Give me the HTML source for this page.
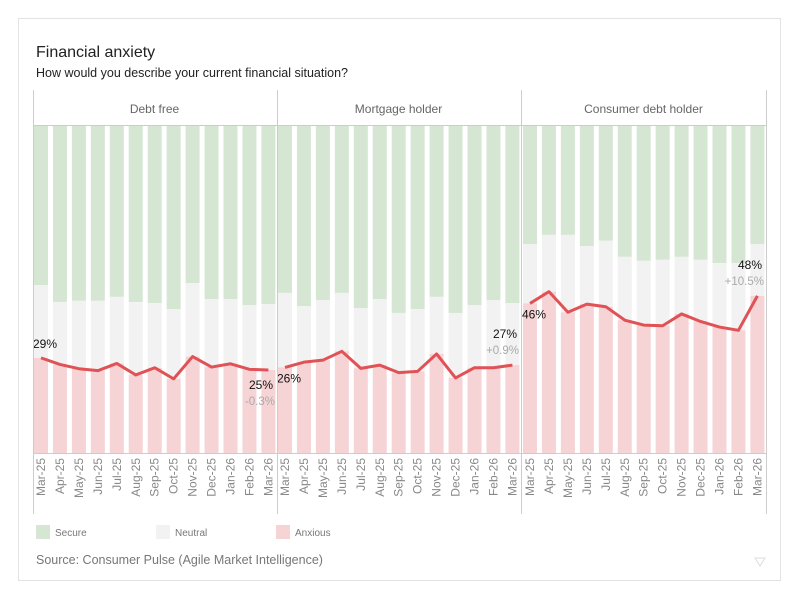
<!DOCTYPE html>
<html><head><meta charset="utf-8"><style>
html,body{margin:0;padding:0;background:#fff;}
svg{display:block;font-family:"Liberation Sans",sans-serif;}
</style></head><body>
<svg id="chart" width="800" height="600" viewBox="0 0 800 600">
<rect x="18.5" y="18.5" width="762" height="562" fill="#fff" stroke="#e3e3e3"/>
<text x="36" y="57" font-size="16" fill="#222">Financial anxiety</text>
<text x="36" y="77" font-size="12.5" fill="#222">How would you describe your current financial situation?</text>
<g id="plot"></g>
<g>
<rect x="36" y="525" width="14" height="14" fill="#d5e6d3"/>
<text x="55" y="536" font-size="10" fill="#777">Secure</text>
<rect x="156" y="525" width="14" height="14" fill="#f2f2f2"/>
<text x="175" y="536" font-size="10" fill="#777">Neutral</text>
<rect x="276" y="525" width="14" height="14" fill="#f6d3d5"/>
<text x="295" y="536" font-size="10" fill="#777">Anxious</text>
</g>
<text x="36" y="564" font-size="12.5" fill="#777">Source: Consumer Pulse (Agile Market Intelligence)</text>
<path d="M755,558 L765,558 L760,566 Z" fill="none" stroke="#ddd"/>
</svg>
<script>
const months = ["Mar-25","Apr-25","May-25","Jun-25","Jul-25","Aug-25","Sep-25","Oct-25","Nov-25","Dec-25","Jan-26","Feb-26","Mar-26"];
const panels = ["Debt free","Mortgage holder","Consumer debt holder"];
const anxiousDebtFree = [29.0,27.0,25.7,25.1,27.3,23.8,26.0,22.6,29.4,26.2,27.2,25.5,25.3];
const notSecureDebtFree = [51.2,46.0,46.4,46.4,47.6,46.0,45.7,43.9,51.8,46.9,46.9,45.1,45.4];
const anxiousMortgage = [26.1,27.7,28.3,31.0,25.8,26.8,24.5,24.9,30.2,22.9,26.0,26.0,26.8];
const notSecureMortgage = [48.8,44.8,46.6,48.8,44.2,46.9,42.7,43.9,47.6,42.7,45.1,46.6,45.7];
const anxiousConsumer = [45.6,49.2,42.9,45.4,44.6,40.5,39.0,38.8,42.4,40.1,38.4,37.4,47.9];
const notSecureConsumer = [63.7,66.5,66.5,63.1,64.7,59.8,58.6,58.9,59.8,58.9,57.9,57.9,63.7];
const changeLabels = ["-0.3%","+0.9%","+10.5%"];

const anx = [anxiousDebtFree, anxiousMortgage, anxiousConsumer];
const ns = [notSecureDebtFree, notSecureMortgage, notSecureConsumer];
const NS = "http://www.w3.org/2000/svg";
const plot = document.getElementById('plot');
const top0 = 125, bot0 = 453;
const yScale = v => bot0 - v/100*(bot0-top0);
const panelX = [34, 278, 523], panelW = 243;
const step = 18.95;
const xScale = (p,i) => panelX[p] + 7 + step*i;
function mk(tag, attrs){const e=document.createElementNS(NS,tag);for(const k in attrs)e.setAttribute(k,attrs[k]);plot.appendChild(e);return e;}

for(let p=0;p<3;p++){
  const h = mk('text',{x:panelX[p]+panelW/2-1,y:113,'font-size':12,fill:'#666','text-anchor':'middle'});
  h.textContent = panels[p];
  
  
  for(let i=0;i<13;i++){
    const cx = xScale(p,i), x = cx-7;
    const s = mk('rect',{x:x,y:top0,width:14,height:yScale(ns[p][i])-top0,fill:'#d5e6d3'});
    
    
    const n = mk('rect',{x:x,y:yScale(ns[p][i]),width:14,height:yScale(anx[p][i])-yScale(ns[p][i]),fill:'#f2f2f2'});
    
    
    const a = mk('rect',{x:x,y:yScale(anx[p][i]),width:14,height:bot0-yScale(anx[p][i]),fill:'#f6d3d5'});
    
    
    const t = mk('text',{transform:`translate(${cx+4},458) rotate(-90)`,'font-size':12,fill:'#888','text-anchor':'end'});
    t.textContent = months[i];
    
    
  }
  const pts = anx[p].map((v,i)=>xScale(p,i)+','+yScale(v)).join(' ');
  const l = mk('polyline',{points:pts,fill:'none',stroke:'#e05256','stroke-width':3,'stroke-linejoin':'round'});
  
  
  const first = anx[p][0], last = anx[p][12];
  const fl = mk('text',{x:panelX[p]-1,y:(p==0? yScale(first)-10 : yScale(first)+15),'font-size':12,fill:'#111'});
  fl.textContent = Math.round(first)+'%';
  
  
  const above = p>0;
  const ly = above ? yScale(last)-27 : yScale(last)+19;
  const ll = mk('text',{x:panelX[p]+panelW-4,y:ly,'font-size':12,fill:'#111','text-anchor':'end'});
  ll.textContent = Math.round(last)+'%';
  
  
  const cl = mk('text',{x:panelX[p]+panelW-2,y:ly+16,'font-size':11.5,fill:'#aaa','text-anchor':'end'});
  cl.textContent = changeLabels[p];
  
  
}
[33.5,277.5,521.5,766.5].forEach(x=>{
  const v = mk('line',{x1:x,x2:x,y1:90,y2:514,stroke:'#ccc'});
  
  
});
[125.5,453.5].forEach(y=>{
  const hl = mk('line',{x1:33.5,x2:766.5,y1:y,y2:y,stroke:'#ccc'});
  
  
});
</script>
</body></html>
